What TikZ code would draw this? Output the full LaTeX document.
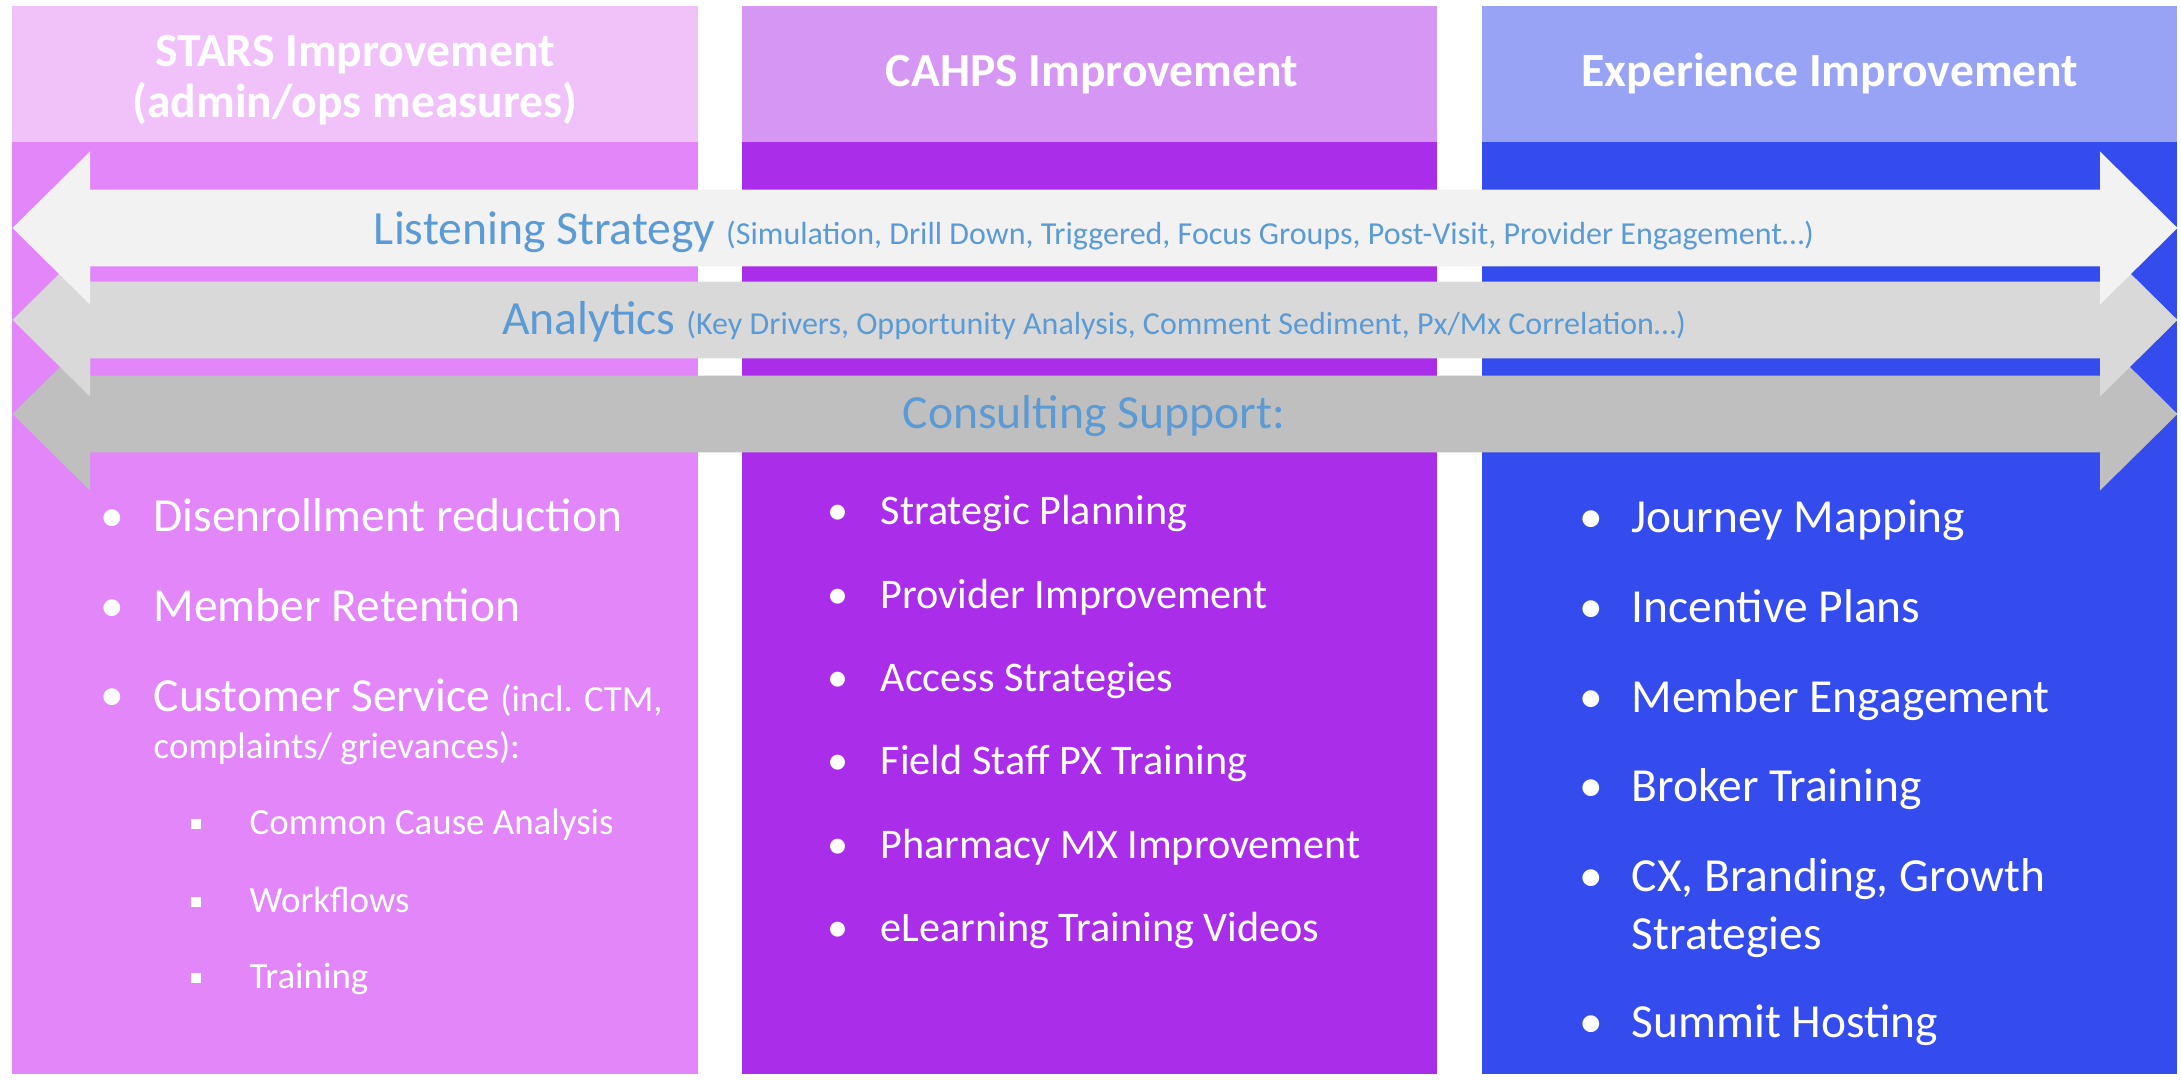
\documentclass[tikz,border=0pt]{standalone}
\usepackage{fontspec}
\setmainfont{Carlito}
\usetikzlibrary{positioning}

\definecolor{starsHead}{HTML}{F1C2FA}
\definecolor{starsBody}{HTML}{E286F9}
\definecolor{cahpsHead}{HTML}{D596F4}
\definecolor{cahpsBody}{HTML}{AA2DEA}
\definecolor{expHead}{HTML}{98A3F5}
\definecolor{expBody}{HTML}{344BEE}
\definecolor{bandA}{HTML}{F2F2F2}
\definecolor{bandB}{HTML}{D9D9D9}
\definecolor{bandC}{HTML}{BFBFBF}
\definecolor{bandText}{HTML}{5B9BD5}

\newcommand{\bandsmall}{\fontsize{9.1}{10}\selectfont}
\newcommand{\itemsmall}{\fontsize{10.5}{13.4}\selectfont}

\tikzset{
  colhead/.style={text=white, anchor=base, inner sep=0pt, align=center,
    font=\bfseries\fontsize{13.55}{14.65}\selectfont},
  bandlbl/.style={text=bandText, anchor=base, inner sep=0pt,
    font=\fontsize{13.55}{15}\selectfont},
  bigitem/.style={text=white, anchor=base west, inner sep=0pt, align=left,
    font=\fontsize{13.5}{16.5}\selectfont},
  miditem/.style={text=white, anchor=base west, inner sep=0pt,
    font=\fontsize{12}{14}\selectfont},
  subitem/.style={text=white, anchor=base west, inner sep=0pt,
    font=\fontsize{10.5}{12}\selectfont},
  dot/.style={text=white, anchor=base, inner sep=0pt},
  subdot/.style={fill=white, inner sep=0pt, minimum size=0.095cm}
}

\begin{document}
\begin{tikzpicture}[x=0.01cm, y=-0.01cm]
    \useasboundingbox (0,0) rectangle (2181,1080);

    % columns
    \fill[starsBody] (12,6) rectangle (698,1074);
    \fill[starsHead] (12,6) rectangle (698,142);
    \fill[cahpsBody] (742,6) rectangle (1437,1074);
    \fill[cahpsHead] (742,6) rectangle (1437,142);
    \fill[expBody] (1482,6) rectangle (2177,1074);
    \fill[expHead] (1482,6) rectangle (2177,142);

    % headings (multi-line nodes sit on their last baseline)
    \node[colhead] (stars) at (355,118) {STARS Improvement\\(admin/ops measures)};
    \node[colhead] (cahps) at (1092,86.7) {CAHPS Improvement};
    \node[colhead] (exper) at (1830,87) {Experience Improvement};

    % double arrows across the columns
    \foreach \yy/\col in {414/bandC, 320/bandB, 228/bandA}
        \fill[\col] (12.5,\yy) -- (90,\yy-76.5) -- (90,\yy-38.3) -- (2100,\yy-38.3)
            -- (2100,\yy-76.5) -- (2177.5,\yy) -- (2100,\yy+76.5) -- (2100,\yy+38.3)
            -- (90,\yy+38.3) -- (90,\yy+76.5) -- cycle;

    \node[bandlbl] (listen) at (1094,245) {Listening Strategy {\bandsmall (Simulation, Drill Down, Triggered, Focus Groups, Post-Visit, Provider Engagement…)}};
    \node[bandlbl] (analytics) at (1094,335) {Analytics {\bandsmall (Key Drivers, Opportunity Analysis, Comment Sediment, Px/Mx Correlation…)}};
    \node[bandlbl] (consult) at (1094,429) {Consulting Support:};

    % STARS items
    \node[bigitem] (disenr) at (153,532) {Disenrollment reduction};
    \node[bigitem] (retain) at (153,622) {Member Retention};
    \node[bigitem] (custserv) at (153,758.5) {Customer Service {\itemsmall (incl. CTM,}\\[-3pt]{\itemsmall complaints/ grievances):}};
    \foreach \yy in {532,622,711}
        \node[dot, font=\fontsize{13.5}{16}\selectfont] at (112,\yy) {•};
    \node[subitem] (cause) at (249,834.8) {Common Cause Analysis};
    \node[subitem] (flows) at (249,912.7) {Workflows};
    \node[subitem] (train) at (249,989) {Training};
    \foreach \yy in {834.8,912.7,989}
        \node[subdot] at (196,\yy-10.8) {};

    % CAHPS items
    \foreach \txt [count=\i from 0] in {Strategic Planning, Provider Improvement, Access Strategies,
        Field Staff PX Training, Pharmacy MX Improvement, eLearning Training Videos} {
        \node[miditem] (cahps\i) at (880,525+83.3*\i) {\txt};
        \node[dot, font=\fontsize{12}{14}\selectfont] at (838,525+83.3*\i) {•};
    }

    % Experience items
    \node[bigitem] (journey) at (1631,533) {Journey Mapping};
    \node[bigitem] (incent) at (1631,623) {Incentive Plans};
    \node[bigitem] (engage) at (1631,713) {Member Engagement};
    \node[bigitem] (broker) at (1631,802) {Broker Training};
    \node[bigitem] (brand) at (1631,950) {CX, Branding, Growth\\Strategies};
    \node[bigitem] (summit) at (1631,1038) {Summit Hosting};
    \foreach \yy in {533,623,713,802,892,1038}
        \node[dot, font=\fontsize{13.5}{16}\selectfont] at (1591,\yy) {•};

\end{tikzpicture}
\end{document}
